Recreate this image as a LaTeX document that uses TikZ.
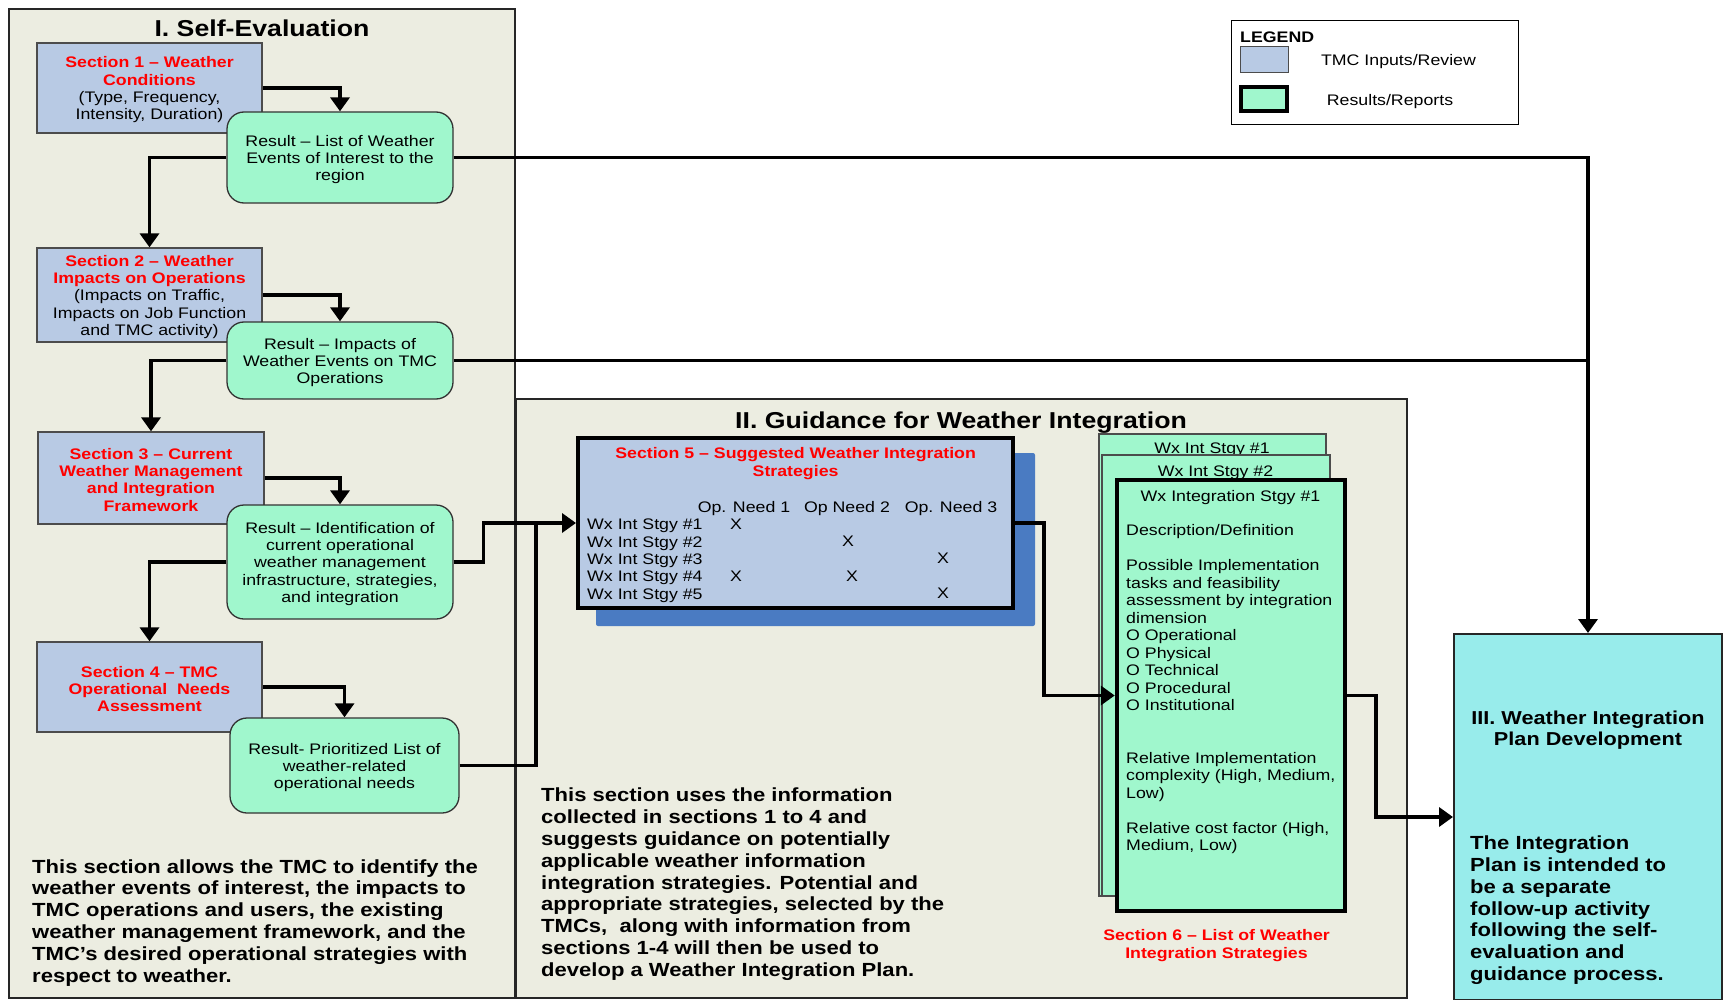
\documentclass[tikz,border=0pt]{standalone}
\usepackage{fontspec}
\setmainfont{Liberation Sans}[FakeStretch=1.16]
\usetikzlibrary{arrows.meta}
\definecolor{bgframe}{HTML}{ECEDE1}
\definecolor{inblue}{HTML}{B8CAE4}
\definecolor{resgreen}{HTML}{A0F7CD}
\definecolor{plancyan}{HTML}{98ECEB}
\definecolor{shadowblue}{HTML}{4A7BC2}
\definecolor{sred}{HTML}{FF0000}
\newcommand\setfs[2]{\fontsize{#1}{#2}\selectfont}
\newcommand\rtx[1]{\textcolor{sred}{\textbf{#1}}}
\newcommand\tp{\rule{0pt}{14.8pt}}
\tikzset{
  frame/.style={draw=black!85, line width=2pt, fill=bgframe, inner sep=0pt},
  inbox/.style={draw=black!70, line width=1.3pt, fill=inblue, align=center, inner sep=0pt, font=\setfs{15.3}{17.3}},
  resbox/.style={draw=black!80, line width=1.3pt, fill=resgreen, rounded corners=17pt, align=center, inner sep=0pt, font=\setfs{15.3}{17.3}},
  card/.style={draw=black!70, line width=1.3pt, fill=resgreen, inner sep=0pt},
  flow/.style={line width=3.6pt, -{Triangle[length=14pt,width=19pt]}},
  flowline/.style={line width=3.6pt},
  txt/.style={inner sep=0pt, font=\setfs{15.3}{17.5}},
  redtxt/.style={inner sep=0pt, align=center, text=sred, font=\setfs{15.3}{17.5}\bfseries},
  para/.style={inner sep=0pt, align=left, font=\setfs{19}{21.8}\bfseries},
  bigtitle/.style={inner sep=0pt, font=\setfs{23}{27}\bfseries},
}
\begin{document}
\begin{tikzpicture}[x=1pt,y=-1pt]
\useasboundingbox (0,0) rectangle (1723,1000);
\fill[white] (0,0) rectangle (1723,1000);

% frames
\node[frame, minimum width=506pt, minimum height=989pt] (frameI) at (262,503.5) {};
\node[frame, minimum width=891pt, minimum height=599pt] (frameII) at (961.5,698.5) {};
\node[bigtitle, yshift=-1.1pt] (titleI) at (262,27.5) {I. Self-Evaluation};
\node[bigtitle, yshift=-3.3pt] (titleII) at (961,419) {II. Guidance for Weather Integration};

% legend
\node[draw=black, line width=1pt, fill=white, minimum width=287pt, minimum height=104pt, inner sep=0pt] (legend) at (1374.5,73) {};
\node[txt, anchor=west, font=\setfs{15.3}{17.5}\bfseries, yshift=-1.1pt] (legtitle) at (1240,36) {LEGEND};
\node[draw=black!70, line width=1pt, fill=inblue, minimum width=48pt, minimum height=26pt, inner sep=0pt] (legsw1) at (1264,60) {};
\node[txt, yshift=-2.2pt] (legt1) at (1398.5,59.5) {TMC Inputs/Review};
\node[draw=black, line width=4pt, fill=resgreen, minimum width=46pt, minimum height=24pt, inner sep=0pt] (legsw2) at (1264,99) {};
\node[txt, yshift=-2.2pt] (legt2) at (1390,99.5) {Results/Reports};

% Section I boxes
\node[inbox, minimum width=225pt, minimum height=90pt] (s1) at (149.5,88) {\tp\rtx{Section 1 – Weather}\\\rtx{Conditions}\\(Type, Frequency,\\Intensity, Duration)};
\node[inbox, minimum width=225pt, minimum height=94pt] (s2) at (149.5,295) {\tp\rtx{Section 2 – Weather}\\\rtx{Impacts on Operations}\\(Impacts on Traffic,\\Impacts on Job Function\\and TMC activity)};
\node[inbox, minimum width=226pt, minimum height=92pt] (s3) at (151,478) {\tp\rtx{Section 3 – Current}\\\rtx{Weather Management}\\\rtx{and Integration}\\\rtx{Framework}};
\node[inbox, minimum width=225pt, minimum height=90pt] (s4) at (149.5,687) {\tp\rtx{Section 4 – TMC}\\\rtx{Operational\ \ Needs}\\\rtx{Assessment}};

\node[resbox, minimum width=226pt, minimum height=91pt] (r1) at (340,157.5) {\tp Result – List of Weather\\Events of Interest to the\\region};
\node[resbox, minimum width=226pt, minimum height=77pt] (r2) at (340,360.5) {\tp Result – Impacts of\\Weather Events on TMC\\Operations};
\node[resbox, minimum width=226pt, minimum height=114pt] (r3) at (340,562) {\tp Result – Identification of\\current operational\\weather management\\infrastructure, strategies,\\and integration};
\node[resbox, minimum width=229pt, minimum height=95pt] (r4) at (344.5,765.5) {\tp Result- Prioritized List of\\weather-related\\operational needs};

\node[para, anchor=west, yshift=-2.2pt] (paraI) at (32,920.5) {This section allows the TMC to identify the\\weather events of interest, the impacts to\\TMC operations and users, the existing\\weather management framework, and the\\TMC’s desired operational strategies with\\respect to weather.};

% Section I flow
\draw[flow] (s1.east) -| (r1.north);
\draw[flow] (r1.west) -| (s2.north);
\draw[flow] (s2.east) -| (r2.north);
\draw[flow] (r2.west) -| (s3.north);
\draw[flow] (s3.east) -| (r3.north);
\draw[flow] (r3.west) -| (s4.north);
\draw[flow] (s4.east) -| (r4.north);

% Section 5
\node[fill=shadowblue, rounded corners=2pt, minimum width=439pt, minimum height=173pt, inner sep=0pt] (s5shadow) at (815.5,539.5) {};
\node[draw=black, line width=4pt, fill=inblue, minimum width=435pt, minimum height=170pt, inner sep=0pt] (s5) at (795.5,523) {};
\node[redtxt, yshift=-2.2pt] (s5title) at (795.6,461.5) {Section 5 – Suggested Weather Integration\\Strategies};
\node[txt, yshift=-3.3pt] (h1) at (744,505) {Op. Need 1};
\node[txt, yshift=-3.3pt] (h2) at (847,505) {Op Need 2};
\node[txt, yshift=-3.3pt] (h3) at (951,505) {Op. Need 3};
\node[txt, anchor=west, align=left, font=\setfs{15.3}{17.3}, yshift=-3.3pt] (rows) at (587,557.5) {Wx Int Stgy \#1\\Wx Int Stgy \#2\\Wx Int Stgy \#3\\Wx Int Stgy \#4\\Wx Int Stgy \#5};
\node[txt, yshift=-1.1pt] (x1) at (736,523) {X};
\node[txt, yshift=-1.1pt] (x2) at (848,540) {X};
\node[txt, yshift=-1.1pt] (x3) at (943,557) {X};
\node[txt, yshift=-1.1pt] (x4) at (736,575) {X};
\node[txt, yshift=-1.1pt] (x5) at (852,575) {X};
\node[txt, yshift=-1.1pt] (x6) at (943,592) {X};

\node[para, anchor=west, yshift=-3.3pt] (paraII) at (541,881) {This section uses the information\\collected in sections 1 to 4 and\\suggests guidance on potentially\\applicable weather information\\integration strategies. Potential and\\appropriate strategies, selected by the\\TMCs,\ \ along with information from\\sections 1-4 will then be used to\\develop a Weather Integration Plan.};

% Section 6 cards
\node[card, minimum width=227pt, minimum height=462pt] (c1) at (1212.5,665) {};
\node[txt, anchor=base] (c1t) at (1212,453.5) {Wx Int Stgy \#1};
\node[card, minimum width=228pt, minimum height=441pt] (c2) at (1216,675.5) {};
\node[txt, anchor=base] (c2t) at (1215.5,476) {Wx Int Stgy \#2};
\node[draw=black, line width=4.5pt, fill=resgreen, minimum width=228pt, minimum height=431pt, inner sep=0pt] (s6) at (1231,695.5) {};
\node[txt, anchor=base] (s6t) at (1230.5,501) {Wx Integration Stgy \#1};
\node[txt, anchor=west, align=left, yshift=-2.2pt] (s6body) at (1126,687) {Description/Definition\\[17.5pt]Possible Implementation\\tasks and feasibility\\assessment by integration\\dimension\\O Operational\\O Physical\\O Technical\\O Procedural\\O Institutional\\[35pt]Relative Implementation\\complexity (High, Medium,\\Low)\\[17.5pt]Relative cost factor (High,\\Medium, Low)};
\node[redtxt, yshift=-1.6pt] (s6label) at (1216.5,944) {Section 6 – List of Weather\\Integration Strategies};

% Section III
\node[draw=black!85, line width=2pt, fill=plancyan, minimum width=268pt, minimum height=366pt, inner sep=0pt] (plan) at (1588,817) {};
\node[inner sep=0pt, align=center, font=\setfs{18.7}{21}\bfseries, yshift=-2.2pt] (plantitle) at (1588,728) {III. Weather Integration\\Plan Development};
\node[para, anchor=west, yshift=-2.2pt] (planbody) at (1470,908) {The Integration\\Plan is intended to\\be a separate\\follow-up activity\\following the self-\\evaluation and\\guidance process.};

% connectors
\coordinate (j1) at (536,523);
\draw[flow] (r3.east) -- ++(30,0) |- (s5.west);
\draw[flowline] (r4.east) -| (j1);
\draw[flow] (s5.east) -- ++(29,0) |- (s6.west);
\draw[flow] (s6.east) -- ++(29,0) |- (plan.west);
\draw[flow] (r1.east) -| (plan.north);
\draw[flowline] (r2.east) -- (r2.east -| plan.north);
\end{tikzpicture}
\end{document}
